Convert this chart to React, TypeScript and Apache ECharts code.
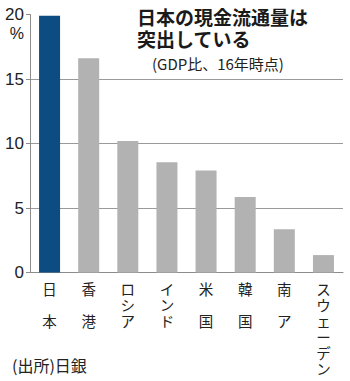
import React, { useEffect, useRef } from "react";
import * as echarts from "echarts";

const categories = ["日本", "香港", "ロシア", "インド", "米国", "韓国", "南ア", "スウェーデン"];
const values = [19.9, 16.6, 10.2, 8.55, 7.9, 5.85, 3.35, 1.35];
const yTicks = [0, 5, 10, 15, 20];
const gridValues = [5, 10, 15];
const titleLines = ["日本の現金流通量は", "突出している"];
const subtitle = "(GDP比、16年時点)";
const unitLabel = "%";
const sourceLabel = "(出所)日銀";

const BLUE = "#0d4c81";
const GRAY = "#b2b2b2";
const CJK = "'Noto Sans CJK JP', 'Noto Sans', sans-serif";

export default function App() {
  const ref = useRef<HTMLDivElement>(null);
  useEffect(() => {
    if (!ref.current) return;
    const chart = echarts.init(ref.current, undefined, { renderer: "svg" });
    chart.setOption({
      animation: false,
      backgroundColor: "#ffffff",
      grid: { left: 30, right: 7, top: 14.5, bottom: 108.5, containLabel: false },
      xAxis: {
        type: "category",
        data: categories,
        axisLine: { show: true, lineStyle: { color: "#8c8c8c", width: 1 } },
        axisTick: { show: false },
        axisLabel: {
          interval: 0,
          margin: 8,
          color: "#222",
          fontFamily: CJK,
          fontSize: 14.5,
          lineHeight: 16,
          verticalAlign: "top",
          formatter: (v: string) => {
            const c = Array.from(v);
            return c.length === 2 ? c[0] + "\n\n" + c[1] : c.join("\n");
          },
        },
      },
      yAxis: {
        type: "value",
        min: 0,
        max: 20,
        interval: 5,
        axisLine: { show: true, lineStyle: { color: "#8c8c8c", width: 1 } },
        axisTick: { show: true, length: 4, lineStyle: { color: "#8c8c8c" } },
        splitLine: { show: false },
        axisLabel: {
          margin: 6,
          color: "#222",
          fontFamily: "'Liberation Sans Narrow', 'Liberation Sans', Arial, sans-serif",
          fontSize: 17,
          formatter: (v: number) => (yTicks.includes(v) ? String(v) : ""),
        },
      },
      series: [
        {
          type: "bar",
          data: values,
          barWidth: 21,
          itemStyle: {
            color: (p: any) => (p.dataIndex === 0 ? BLUE : GRAY),
          },
          markLine: {
            silent: true,
            symbol: ["none", "none"],
            label: { show: false },
            lineStyle: { color: "#9a9a9a", width: 1, type: "solid" },
            data: gridValues.map((g) => ({ yAxis: g })),
            z: 0,
          },
          z: 2,
        },
      ],
      graphic: [
        {
          type: "text",
          left: 137,
          top: 5,
          style: {
            text: titleLines.join("\n"),
            fontFamily: CJK,
            fontWeight: "bold",
            fontSize: 19,
            lineHeight: 22,
            fill: "#1a1a1a",
          },
        },
        {
          type: "text",
          left: 152,
          top: 56,
          style: {
            text: subtitle,
            fontFamily: CJK,
            fontSize: 15,
            fill: "#222",
          },
        },
        {
          type: "text",
          x: 24,
          y: 33,
          style: {
            text: unitLabel,
            fontFamily: "'Liberation Sans', Arial, sans-serif",
            fontSize: 16,
            fill: "#222",
            align: "right",
            verticalAlign: "middle",
          },
        },
        {
          type: "text",
          left: 12,
          top: 357,
          style: {
            text: sourceLabel,
            fontFamily: CJK,
            fontSize: 16,
            fill: "#222",
          },
        },
      ],
    });
    return () => chart.dispose();
  }, []);
  return <div ref={ref} style={{ width: 350, height: 381, position: "absolute", left: 0, top: 0 }} />;
}
